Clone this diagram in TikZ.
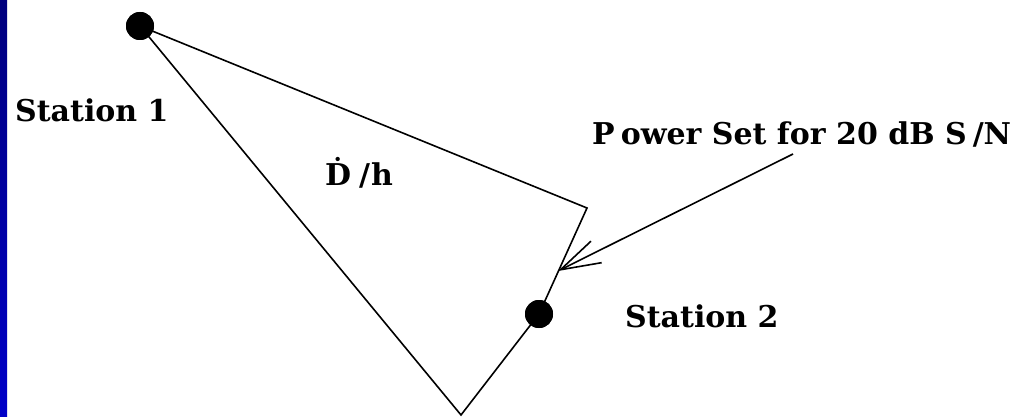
\documentclass[tikz,border=0pt]{standalone}
\usepackage{fontspec}
\setmainfont{DejaVu Serif}
\usetikzlibrary{arrows.meta}
\definecolor{stripTop}{RGB}{0,0,125}
\definecolor{stripBot}{RGB}{0,0,200}
\tikzset{
  stationdot/.style={circle,fill=black,inner sep=0pt,minimum size=28pt},
  wire/.style={line width=1.6pt,line join=miter},
  lbl/.style={anchor=base west,inner sep=0pt,font=\fontsize{30}{30}\selectfont\bfseries},
}
\begin{document}
\begin{tikzpicture}[x=1pt,y=-1pt]
\useasboundingbox (0,0) rectangle (1025,417);
\fill[white] (0,0) rectangle (1025,417);
\shade[top color=stripTop,bottom color=stripBot] (0,0) rectangle (7,417);
% points
\coordinate (corner) at (587,208);
\coordinate (vertex) at (461,415);
\coordinate (tip) at (558,271);
\coordinate (tail) at (793,154);
\node[stationdot] (s1) at (140,26) {};
\node[stationdot] (s2) at (539,314) {};
% triangle
\draw[wire] (s1.center) -- (corner) -- (s2.center) -- (vertex) -- cycle;
\node[stationdot] at (s1.center) {};
\node[stationdot] at (s2.center) {};
% arrow
\draw[wire,-{Straight Barb[length=40pt,width=24pt,line width=1.6pt]}] (tail) -- (tip);
% labels
\node[lbl] (l1) at (15,122) {Station 1};
\node[lbl] (l2) at (625,327) {Station 2};
\node[lbl] (lp) at (592,145) {P\hspace{6pt}ower Set for 20 dB S\hspace{6pt}/N};
\node[lbl] (ld) at (325,185) {Ḋ\hspace{8pt}/\hspace{1pt}h};
\end{tikzpicture}
\end{document}
